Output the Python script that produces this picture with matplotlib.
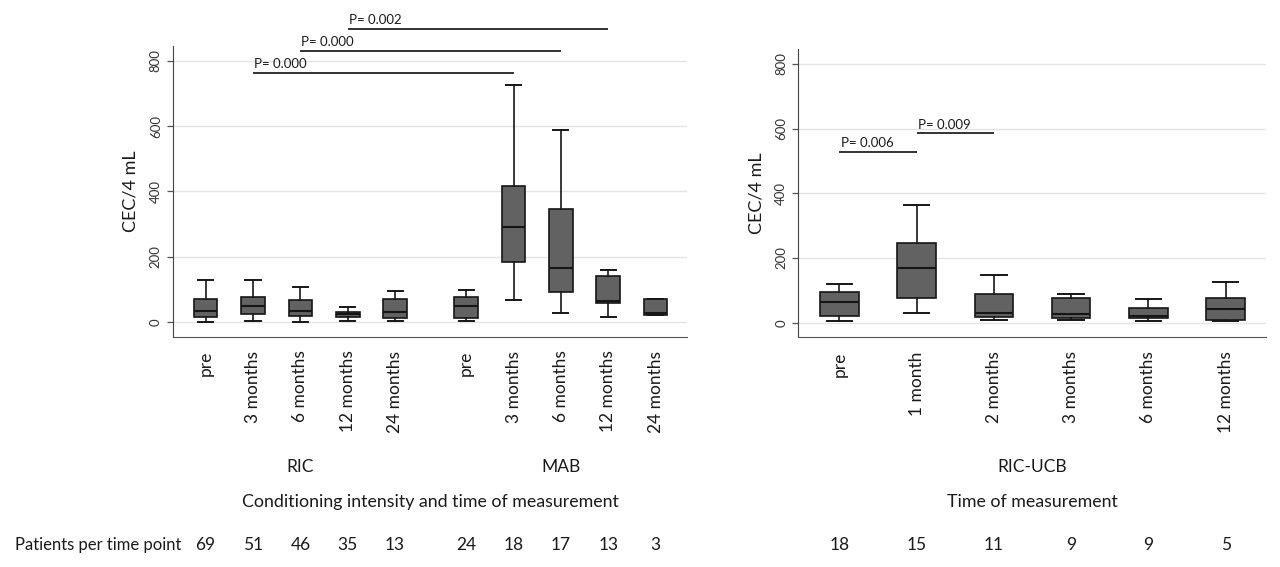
import matplotlib
matplotlib.use("Agg")
import matplotlib.pyplot as plt
import matplotlib.transforms as mtransforms

plt.rcParams['font.family'] = ['Lato', 'DejaVu Sans']

# ---- left panel: RIC and MAB ----
left_labels = ["pre", "3 months", "6 months", "12 months", "24 months",
               "pre", "3 months", "6 months", "12 months", "24 months"]
left_pos = [0, 1, 2, 3, 4, 5.5, 6.5, 7.5, 8.5, 9.5]
left_whislo = [1, 3, 1, 4, 3, 3, 66, 28, 15, 20]
left_q1 = [15, 23, 18, 15, 12, 12, 185, 93, 59, 20]
left_med = [34, 49, 33, 23, 31, 48, 291, 166, 64, 28]
left_q3 = [69, 78, 66, 30, 69, 77, 417, 347, 142, 70]
left_whishi = [130, 130, 107, 46, 96, 99, 726, 587, 159, 70]
left_n = [69, 51, 46, 35, 13, 24, 18, 17, 13, 3]
left_groups = ["RIC", "MAB"]
left_group_x = [2, 7.5]

# significance bars
left_sig_start = [1, 2, 3]
left_sig_end = [6.5, 7.5, 8.5]
left_sig_y = [762, 830, 897]
left_sig_txt = ["P= 0.000", "P= 0.000", "P= 0.002"]

# ---- right panel: RIC-UCB ----
right_labels = ["pre", "1 month", "2 months", "3 months", "6 months", "12 months"]
right_pos = [0, 1, 2, 3, 4, 5]
right_whislo = [4, 29, 9, 9, 6, 5]
right_q1 = [21, 77, 17, 16, 16, 7]
right_med = [63, 169, 31, 27, 21, 41]
right_q3 = [96, 245, 89, 76, 45, 76]
right_whishi = [121, 365, 149, 89, 74, 127]
right_n = [18, 15, 11, 9, 9, 5]

right_sig_start = [0, 1]
right_sig_end = [1, 2]
right_sig_y = [528, 585]
right_sig_txt = ["P= 0.006", "P= 0.009"]

FILL = "#626262"
EDGE = "#161616"
TXT = "#1a1a1a"


def make_stats(lo, q1, med, q3, hi):
    return [dict(whislo=a, q1=b, med=c, q3=d, whishi=e, fliers=[])
            for a, b, c, d, e in zip(lo, q1, med, q3, hi)]


def style_axis(ax, labels, positions, xlim):
    ax.set_ylim(-45, 845)
    ax.set_xlim(*xlim)
    ax.set_yticks([0, 200, 400, 600, 800])
    ax.set_yticklabels(["0", "200", "400", "600", "800"], rotation=90,
                       va="center", fontsize=9.5, color="#333333")
    ax.tick_params(axis="y", length=4, width=0.9, color="#555555", pad=4)
    ax.set_xticks(positions)
    ax.set_xticklabels(labels, rotation=90, fontsize=12.5, color=TXT)
    ax.tick_params(axis="x", length=0, pad=10)
    ax.grid(axis="y", color="#e4e4e4", lw=1)
    ax.set_axisbelow(True)
    for s in ["top", "right"]:
        ax.spines[s].set_visible(False)
    ax.spines["left"].set_color("#444444")
    ax.spines["bottom"].set_color("#555555")
    ax.set_ylabel("CEC/4 mL", fontsize=13, color=TXT, labelpad=8)


def sig_bars(ax, starts, ends, ys, texts):
    for s, e, y, t in zip(starts, ends, ys, texts):
        ax.plot([s, e], [y, y], color="#111111", lw=1.2, clip_on=False,
                solid_capstyle="butt")
        ax.text(s + 0.02, y + 8, t, fontsize=9.5, color=TXT, ha="left",
                va="bottom", clip_on=False)


fig = plt.figure(figsize=(12.8, 5.67), dpi=100)
ax1 = fig.add_axes([0.1351, 0.4062, 0.4019, 0.5127])
ax2 = fig.add_axes([0.6237, 0.4051, 0.3652, 0.5080])

box_kw = dict(patch_artist=True, showfliers=False,
              boxprops=dict(facecolor=FILL, edgecolor=EDGE, lw=1.2),
              medianprops=dict(color=EDGE, lw=1.5),
              whiskerprops=dict(color=EDGE, lw=1.2),
              capprops=dict(color=EDGE, lw=1.4))

ax1.bxp(make_stats(left_whislo, left_q1, left_med, left_q3, left_whishi),
        positions=left_pos, widths=0.5, capwidths=0.32, **box_kw)
style_axis(ax1, left_labels, left_pos, (-0.69, 10.17))
sig_bars(ax1, left_sig_start, left_sig_end, left_sig_y, left_sig_txt)

ax2.bxp(make_stats(right_whislo, right_q1, right_med, right_q3, right_whishi),
        positions=right_pos, widths=0.5, capwidths=0.33, **box_kw)
style_axis(ax2, right_labels, right_pos, (-0.53, 5.52))
sig_bars(ax2, right_sig_start, right_sig_end, right_sig_y, right_sig_txt)

# text rows under the axes
y_group = (567 - 467) / 567
y_title = (567 - 502) / 567
y_count = (567 - 545) / 567

tr1 = mtransforms.blended_transform_factory(ax1.transData, fig.transFigure)
tr2 = mtransforms.blended_transform_factory(ax2.transData, fig.transFigure)
ta1 = mtransforms.blended_transform_factory(ax1.transAxes, fig.transFigure)
ta2 = mtransforms.blended_transform_factory(ax2.transAxes, fig.transFigure)

for g, gx in zip(left_groups, left_group_x):
    fig.text(gx, y_group, g, transform=tr1, ha="center", va="center",
             fontsize=12.5, color=TXT)
fig.text(0.5, y_title, "Conditioning intensity and time of measurement",
         transform=ta1, ha="center", va="center", fontsize=12.8, color=TXT)
fig.text(15 / 1280, y_count, "Patients per time point", ha="left",
         va="center", fontsize=12, color=TXT)
for p, n in zip(left_pos, left_n):
    fig.text(p, y_count, str(n), transform=tr1, ha="center", va="center",
             fontsize=12.5, color=TXT)

fig.text(0.5, y_group, "RIC-UCB", transform=ta2, ha="center", va="center",
         fontsize=12.5, color=TXT)
fig.text(0.5, y_title, "Time of measurement", transform=ta2, ha="center",
         va="center", fontsize=12.8, color=TXT)
for p, n in zip(right_pos, right_n):
    fig.text(p, y_count, str(n), transform=tr2, ha="center", va="center",
             fontsize=12.5, color=TXT)

fig.savefig("out.png", dpi=100, facecolor="white")
